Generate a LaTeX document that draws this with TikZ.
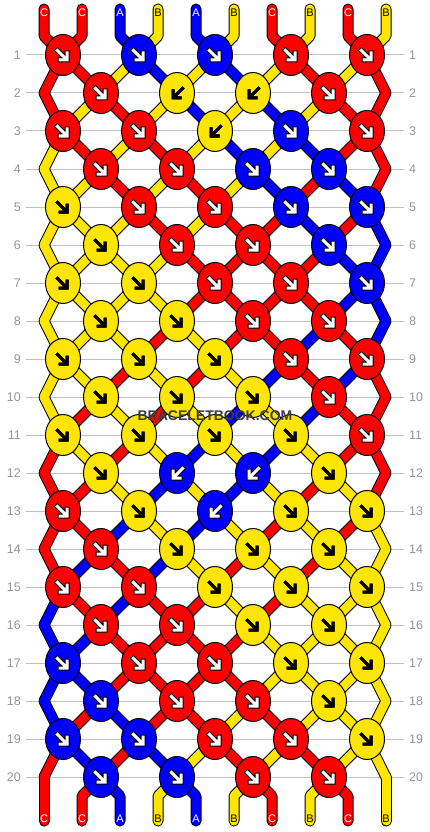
\documentclass[tikz,border=0pt]{standalone}
\usepackage{fontspec}
\setmainfont{Liberation Sans}
\usetikzlibrary{shapes.geometric}
\definecolor{sC}{RGB}{255,0,0}
\definecolor{sA}{RGB}{0,0,255}
\definecolor{sB}{RGB}{255,230,0}
\definecolor{tC}{RGB}{255,255,255}
\definecolor{tA}{RGB}{255,255,255}
\definecolor{tB}{RGB}{0,0,0}
\definecolor{gridc}{RGB}{192,192,192}
\definecolor{labc}{RGB}{150,150,150}
\definecolor{wmc}{RGB}{60,60,60}
\pgfdeclarelayer{grid}
\pgfdeclarelayer{strings}
\pgfsetlayers{grid,strings,main}
\tikzset{
  knot/.style={ellipse, draw=black, line width=1pt, minimum width=35pt, minimum height=41pt, inner sep=0pt},
  strout/.style={black, line width=11pt, line cap=round, line join=round},
  strin/.style={line width=9pt, line cap=round, line join=round},
  arroutC/.style={black, line width=5pt, line cap=rect, line join=miter},
  arrinC/.style={white, line width=3pt, line cap=rect, line join=miter},
  arroutA/.style={arroutC}, arrinA/.style={arrinC},
  arroutB/.style={black, line width=3pt, line cap=rect, line join=miter},
  arrinB/.style={arroutB},
  dirs/.style={}, dirw/.style={xscale=-1},
  gridl/.style={gridc, line width=1pt},
  rowlab/.style={text=labc, inner sep=0pt, font=\fontsize{12.5}{13}\selectfont},
  endlab/.style={inner sep=0pt, font=\fontsize{11}{11}\selectfont},
  wm/.style={inner sep=0pt, font=\bfseries\fontsize{14}{14}\selectfont},
}
\begin{document}
\begin{tikzpicture}[x=1pt,y=-1pt]
\useasboundingbox (0,0) rectangle (430,832);
% knots
\foreach \r/\ks in {
1/{C/s,A/s,A/s,C/s,C/s},
2/{C/s,B/w,B/w,C/s},
3/{C/s,C/s,B/w,A/s,C/s},
4/{C/s,C/s,A/s,A/s},
5/{B/s,C/s,C/s,A/s,A/s},
6/{B/s,C/s,C/s,A/s},
7/{B/s,B/s,C/s,C/s,A/s},
8/{B/s,B/s,C/s,C/s},
9/{B/s,B/s,B/s,C/s,C/s},
10/{B/s,B/s,B/s,C/s},
11/{B/s,B/s,B/s,B/s,C/s},
12/{B/s,A/w,A/w,B/s},
13/{C/s,B/s,A/w,B/s,B/s},
14/{C/s,B/s,B/s,B/s},
15/{C/s,C/s,B/s,B/s,B/s},
16/{C/s,C/s,B/s,B/s},
17/{A/s,C/s,C/s,B/s,B/s},
18/{A/s,C/s,C/s,B/s},
19/{A/s,A/s,C/s,C/s,B/s},
20/{A/s,A/s,C/s,C/s}}{
  \ifodd\r \def\xo{63}\else\def\xo{101}\fi
  \foreach \c/\d [count=\k] in \ks {
    \node[knot, fill=s\c] (k-\r-\k) at ({\xo+76*(\k-1)},{55+38*(\r-1)}) {};
    \begin{scope}[shift={(k-\r-\k.center)}, dir\d]
      \draw[arrout\c] (-5.5,-4.5) -- (2.5,3.5) (4,-2) -- (4,5) -- (-3,5);
      \draw[arrin\c] (-5.5,-4.5) -- (2.5,3.5) (4,-2) -- (4,5) -- (-3,5);
    \end{scope}
  }
}
% position coordinates
\foreach \r in {1,...,20}{
  \foreach \p in {1,...,10}{
    \ifodd\r
      \pgfmathtruncatemacro\kk{(\p+1)/2}
      \coordinate (P-\r-\p) at (k-\r-\kk.center);
    \else
      \ifnum\p=1
        \coordinate (P-\r-\p) at (44,{55+38*(\r-1)});
      \else\ifnum\p=10
        \coordinate (P-\r-\p) at (386,{55+38*(\r-1)});
      \else
        \pgfmathtruncatemacro\kk{\p/2}
        \coordinate (P-\r-\p) at (k-\r-\kk.center);
      \fi\fi
    \fi
  }
}
\foreach \p in {1,...,10}{
  \coordinate (T-\p) at ({44+38*(\p-1)},9);
  \coordinate (TB-\p) at ({44+38*(\p-1)},36);
  \coordinate (BB-\p) at ({44+38*(\p-1)},796);
  \coordinate (B-\p) at ({44+38*(\p-1)},821);
}
% strings
\begin{pgfonlayer}{strings}
\foreach \pass in {out,in}{
 \foreach \r/\s in {
0/{C,C,A,B,A,B,C,B,C,B},
1/{C,C,B,A,B,A,B,C,B,C},
2/{C,B,C,B,A,B,A,B,C,C},
3/{B,C,B,C,B,A,B,A,C,C},
4/{B,B,C,B,C,B,A,C,A,C},
5/{B,B,B,C,B,C,C,A,C,A},
6/{B,B,B,B,C,C,C,C,A,A},
7/{B,B,B,B,C,C,C,C,A,A},
8/{B,B,B,C,B,C,C,A,C,A},
9/{B,B,C,B,C,B,A,C,A,C},
10/{B,C,B,C,B,A,B,A,C,C},
11/{C,B,C,B,A,B,A,B,C,C},
12/{C,C,B,A,B,A,B,C,B,C},
13/{C,C,A,B,A,B,C,B,C,B},
14/{C,A,C,A,B,C,B,C,B,B},
15/{A,C,A,C,C,B,C,B,B,B},
16/{A,A,C,C,C,C,B,B,B,B},
17/{A,A,C,C,C,C,B,B,B,B},
18/{A,C,A,C,C,B,C,B,B,B},
19/{C,A,C,A,B,C,B,C,B,B},
20/{C,C,A,B,A,B,C,B,C,B}}{
  \foreach \c [count=\p] in \s {
    \ifnum\r=0
      \draw[s\c, str\pass] (T-\p) -- (TB-\p) -- (P-1-\p);
    \else\ifnum\r=20
      \draw[s\c, str\pass] (P-20-\p) -- (BB-\p) -- (B-\p);
    \else
      \pgfmathtruncatemacro\rn{\r+1}
      \draw[s\c, str\pass] (P-\r-\p) -- (P-\rn-\p);
    \fi\fi
  }
 }
}
\end{pgfonlayer}
% grid and row labels
\begin{pgfonlayer}{grid}
\fill[white] (0,0) rectangle (430,832);
\foreach \r in {1,...,20}{
  \draw[gridl] (26,{55+38*(\r-1)}) -- (404,{55+38*(\r-1)});
  \node[rowlab, anchor=east] (lL-\r) at (21,{55+38*(\r-1)}) {\r};
  \node[rowlab, anchor=west] (lR-\r) at (409,{55+38*(\r-1)}) {\r};
}
\end{pgfonlayer}
% end labels
\foreach \c [count=\p] in {C,C,A,B,A,B,C,B,C,B}{
  \node[endlab, text=t\c] (tl-\p) at ({44+38*(\p-1)},13) {\c};
  \node[endlab, text=t\c] (bl-\p) at ({44+38*(\p-1)},819) {\c};
}
% watermark
\node[wm, text=wmc] (wm) at (215,416) {BRACELETBOOK.COM};
\end{tikzpicture}
\end{document}
